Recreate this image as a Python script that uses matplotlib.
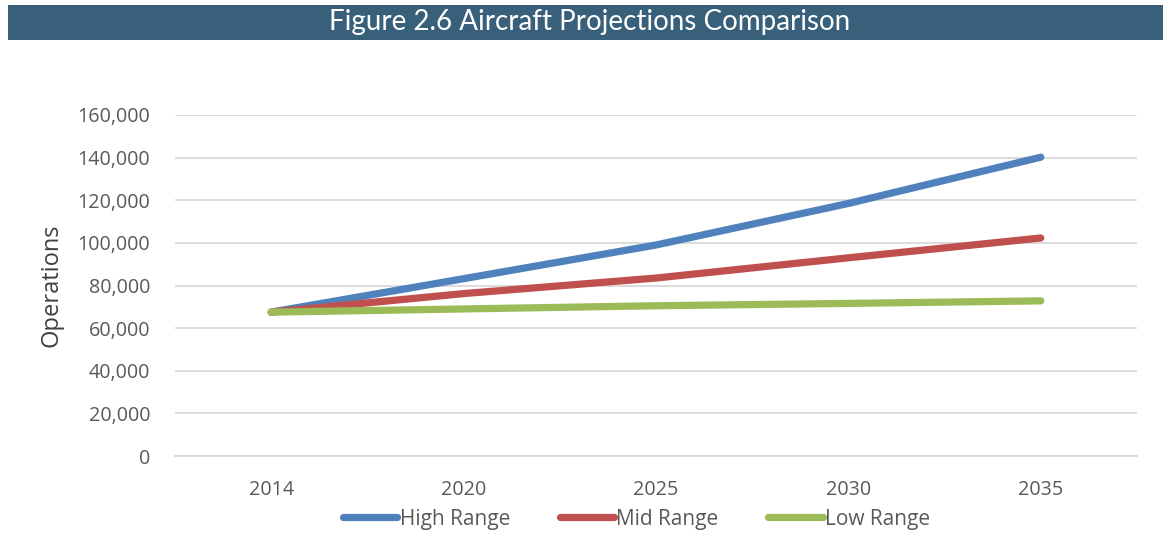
import matplotlib.pyplot as plt
from matplotlib.patches import Rectangle
from matplotlib.ticker import FuncFormatter

plt.rcParams["font.family"] = ["Open Sans", "DejaVu Sans"]

# data
years = ["2014", "2020", "2025", "2030", "2035"]
high_range = [67500, 83200, 99000, 118500, 140200]
mid_range = [67500, 76200, 83500, 93000, 102300]
low_range = [67500, 69000, 70500, 71600, 72800]

series_names = ["High Range", "Mid Range", "Low Range"]
colors = ["#4F81BD", "#C0504D", "#9BBB59"]

fig = plt.figure(figsize=(11.65, 5.37), dpi=100)

# title bar
fig.patches.append(Rectangle((8 / 1165, 1 - 40 / 537), 1155 / 1165, 35 / 537,
                             transform=fig.transFigure, facecolor="#38607A",
                             edgecolor="none", zorder=0))
fig.text(0.506, 1 - 22 / 537, "Figure 2.6 Aircraft Projections Comparison",
         ha="center", va="center", color="white", fontsize=20,
         family=["Lato", "DejaVu Sans"], zorder=5)

ax = fig.add_axes([175 / 1165, 81 / 537, 962 / 1165, 341 / 537])

x = range(len(years))
for vals, name, c in zip([high_range, mid_range, low_range], series_names, colors):
    ax.plot(x, vals, color=c, linewidth=5.2, solid_capstyle="round",
            solid_joinstyle="round", label=name, zorder=3)

ax.set_xlim(-0.5, len(years) - 0.5)
ax.set_ylim(0, 160000)
ax.set_yticks(range(0, 160001, 20000))
ax.yaxis.set_major_formatter(FuncFormatter(lambda v, p: f"{int(v):,}"))
ax.set_xticks(list(x))
ax.set_xticklabels(years)

ax.grid(axis="y", color="#D9D9D9", linewidth=1.3)
ax.set_axisbelow(True)
for s in ["top", "right", "left"]:
    ax.spines[s].set_visible(False)
ax.spines["bottom"].set_color("#D9D9D9")
ax.spines["bottom"].set_linewidth(1.3)
ax.tick_params(length=0, labelsize=14.2, colors="#595959")
ax.tick_params(axis="y", pad=18)
ax.tick_params(axis="x", pad=17)

ax.set_ylabel("Operations", fontsize=17, color="#404040", labelpad=10)

leg = fig.legend(loc="center", bbox_to_anchor=(0.5464, 1 - 519 / 537), ncol=3,
                 frameon=False, fontsize=15, handlelength=2.6, handletextpad=0.1,
                 columnspacing=2.4, labelcolor="#595959")

plt.savefig("out.png", dpi=100)
